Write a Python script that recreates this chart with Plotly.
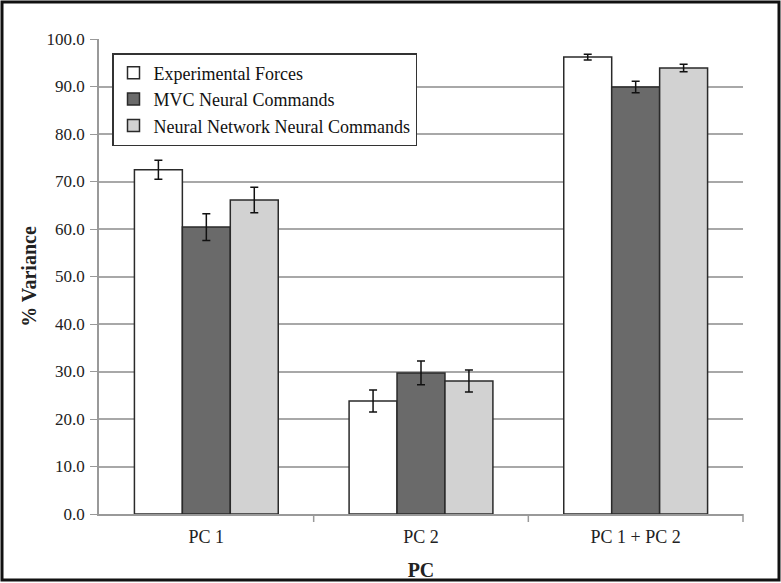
import plotly.graph_objects as go

categories = ["PC 1", "PC 2", "PC 1 + PC 2"]
series_names = ["Experimental Forces", "MVC Neural Commands", "Neural Network Neural Commands"]
exp_vals = [72.5, 23.8, 96.2]
exp_err = [2.0, 2.3, 0.6]
mvc_vals = [60.4, 29.7, 89.9]
mvc_err = [2.8, 2.5, 1.2]
nn_vals = [66.1, 28.0, 93.9]
nn_err = [2.7, 2.3, 0.8]
colors = ["#ffffff", "#6a6a6a", "#d2d2d2"]
y_ticks = [0, 10, 20, 30, 40, 50, 60, 70, 80, 90, 100]

SERIF = "Liberation Serif, Times New Roman, serif"

fig = go.Figure()
for name, vals, errs, col in zip(series_names, [exp_vals, mvc_vals, nn_vals],
                                 [exp_err, mvc_err, nn_err], colors):
    fig.add_trace(go.Bar(
        x=categories, y=vals, name=name,
        marker=dict(color=col, line=dict(color="#2a2a2a", width=1.5)),
        error_y=dict(type="data", array=errs, color="#111111", thickness=1.5, width=4),
    ))

W, H = 781, 583
ml, mr, mt, mb = 99, 38, 39, 69
pw, ph = W - ml - mr, H - mt - mb

fig.update_layout(
    width=W, height=H,
    margin=dict(l=ml, r=mr, t=mt, b=mb, autoexpand=False),
    paper_bgcolor="white", plot_bgcolor="white",
    barmode="group", bargap=0.33, bargroupgap=0,
    font=dict(family=SERIF, color="#222222", size=18),
    showlegend=True,
    legend=dict(
        x=(112 - ml) / pw, y=(514 - 53) / ph, xanchor="left", yanchor="top",
        bgcolor="white", bordercolor="#333333", borderwidth=1.5,
        font=dict(size=18, family=SERIF, color="#111111"),
        tracegroupgap=0, itemwidth=30,
    ),
    xaxis=dict(
        title=dict(text="<b>PC</b>", font=dict(size=20, family=SERIF), standoff=17),
        showline=True, linecolor="#999999", linewidth=1.5,
        ticks="", showgrid=False, tickfont=dict(size=18, family=SERIF),
        ticklabelstandoff=6, automargin=False,
    ),
    yaxis=dict(
        title=dict(text="<b>% Variance</b>", font=dict(size=20, family=SERIF), standoff=5),
        range=[0, 100], tickvals=y_ticks,
        ticktext=[f"{v:.1f}" for v in y_ticks],
        showline=True, linecolor="#999999", linewidth=1.5,
        ticks="outside", ticklen=7, tickcolor="#999999",
        showgrid=True, gridcolor="#a8a8a8", gridwidth=1.5,
        zeroline=False, tickfont=dict(size=17, family=SERIF),
        ticklabelstandoff=2, automargin=False,
    ),
)

# tick marks between categories on the x axis
for xv in [0.5, 1.5]:
    fig.add_shape(type="line", xref="x", yref="paper", x0=xv, x1=xv, y0=0, y1=-8 / ph,
                  line=dict(color="#999999", width=1.5))
fig.add_shape(type="line", xref="paper", yref="paper", x0=1, x1=1, y0=0, y1=-8 / ph,
              line=dict(color="#999999", width=1.5))

# outer black frame
fig.add_shape(type="rect", xref="paper", yref="paper",
              x0=(2 - ml) / pw, x1=(779 - ml) / pw,
              y0=(514 - 580) / ph, y1=(514 - 2) / ph,
              line=dict(color="#111111", width=3), fillcolor="rgba(0,0,0,0)", layer="above")

fig.write_html("out.html", config={"displayModeBar": False},
               post_script="document.body.style.margin='0px';")
